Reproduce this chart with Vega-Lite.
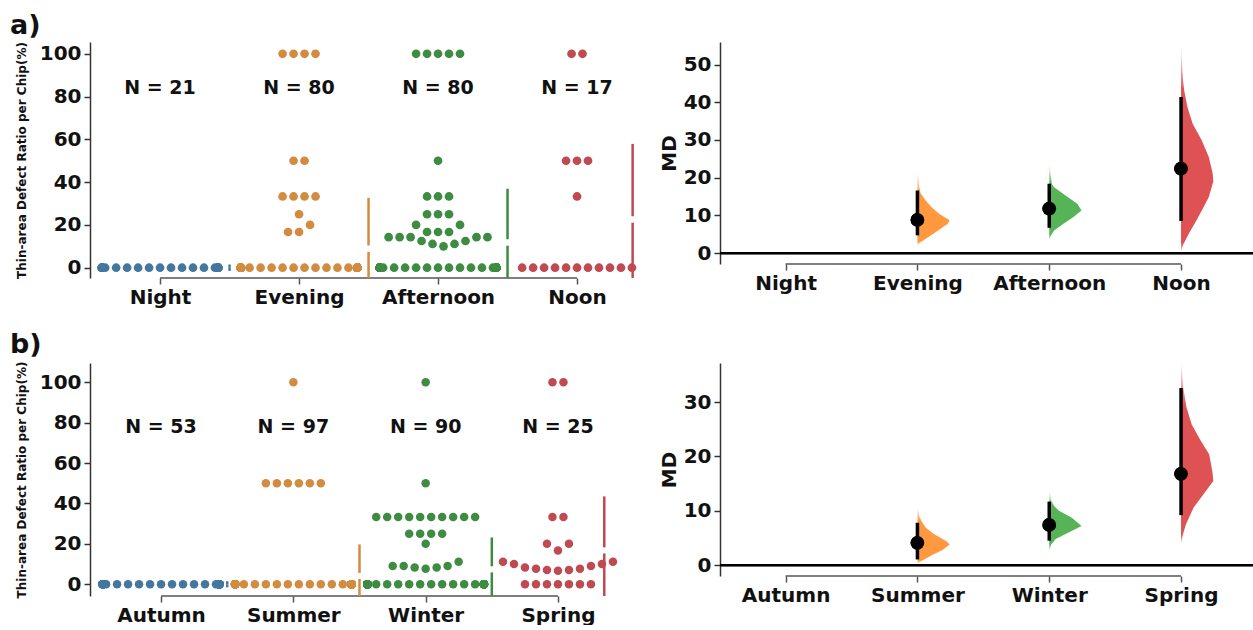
{
  "$schema": "https://vega.github.io/schema/vega-lite/v6.json",
  "background": "white",
  "padding": {"left": 10, "top": 11, "right": 0, "bottom": 0},
  "columns": 2,
  "bounds": "flush",
  "spacing": {"row": 85, "column": 80},
  "config": {
    "view": {"stroke": null},
    "font": "DejaVu Sans",
    "axis": {
      "grid": false,
      "labelFont": "DejaVu Sans",
      "titleFont": "DejaVu Sans",
      "labelFontWeight": "bold",
      "titleFontWeight": "bold",
      "labelColor": "#111",
      "titleColor": "#111",
      "labelFontSize": 20,
      "tickColor": "#333",
      "domainColor": "#333",
      "tickSize": 6,
      "tickWidth": 1.5,
      "domainWidth": 1.5,
      "labelPadding": 3
    }
  },
  "datasets": {
    "a_swarm": [
      {"group":"Night","value":0},{"group":"Night","value":0},{"group":"Night","value":0},{"group":"Night","value":0},{"group":"Night","value":0},{"group":"Night","value":0},{"group":"Night","value":0},
      {"group":"Night","value":0},{"group":"Night","value":0},{"group":"Night","value":0},{"group":"Night","value":0},{"group":"Night","value":0},{"group":"Night","value":0},{"group":"Night","value":0},
      {"group":"Night","value":0},{"group":"Night","value":0},{"group":"Night","value":0},{"group":"Night","value":0},{"group":"Night","value":0},{"group":"Night","value":0},{"group":"Night","value":0},
      {"group":"Evening","value":100},{"group":"Evening","value":100},{"group":"Evening","value":100},{"group":"Evening","value":100},
      {"group":"Evening","value":50},{"group":"Evening","value":50},
      {"group":"Evening","value":33.3},{"group":"Evening","value":33.3},{"group":"Evening","value":33.3},{"group":"Evening","value":33.3},
      {"group":"Evening","value":25},{"group":"Evening","value":20},{"group":"Evening","value":16.7},{"group":"Evening","value":16.7},
      {"group":"Evening","value":0},{"group":"Evening","value":0},{"group":"Evening","value":0},{"group":"Evening","value":0},{"group":"Evening","value":0},{"group":"Evening","value":0},{"group":"Evening","value":0},{"group":"Evening","value":0},{"group":"Evening","value":0},{"group":"Evening","value":0},{"group":"Evening","value":0},
      {"group":"Evening","value":0},{"group":"Evening","value":0},{"group":"Evening","value":0},{"group":"Evening","value":0},{"group":"Evening","value":0},{"group":"Evening","value":0},{"group":"Evening","value":0},{"group":"Evening","value":0},{"group":"Evening","value":0},{"group":"Evening","value":0},{"group":"Evening","value":0},
      {"group":"Evening","value":0},{"group":"Evening","value":0},{"group":"Evening","value":0},{"group":"Evening","value":0},{"group":"Evening","value":0},{"group":"Evening","value":0},{"group":"Evening","value":0},{"group":"Evening","value":0},{"group":"Evening","value":0},{"group":"Evening","value":0},{"group":"Evening","value":0},
      {"group":"Evening","value":0},{"group":"Evening","value":0},{"group":"Evening","value":0},{"group":"Evening","value":0},{"group":"Evening","value":0},{"group":"Evening","value":0},{"group":"Evening","value":0},{"group":"Evening","value":0},{"group":"Evening","value":0},{"group":"Evening","value":0},{"group":"Evening","value":0},
      {"group":"Evening","value":0},{"group":"Evening","value":0},{"group":"Evening","value":0},{"group":"Evening","value":0},{"group":"Evening","value":0},{"group":"Evening","value":0},{"group":"Evening","value":0},{"group":"Evening","value":0},{"group":"Evening","value":0},{"group":"Evening","value":0},{"group":"Evening","value":0},
      {"group":"Evening","value":0},{"group":"Evening","value":0},{"group":"Evening","value":0},{"group":"Evening","value":0},{"group":"Evening","value":0},{"group":"Evening","value":0},{"group":"Evening","value":0},{"group":"Evening","value":0},{"group":"Evening","value":0},{"group":"Evening","value":0},{"group":"Evening","value":0},
      {"group":"Afternoon","value":100},{"group":"Afternoon","value":100},{"group":"Afternoon","value":100},{"group":"Afternoon","value":100},{"group":"Afternoon","value":100},
      {"group":"Afternoon","value":50},
      {"group":"Afternoon","value":33.3},{"group":"Afternoon","value":33.3},{"group":"Afternoon","value":33.3},
      {"group":"Afternoon","value":25},{"group":"Afternoon","value":25},{"group":"Afternoon","value":25},
      {"group":"Afternoon","value":20},{"group":"Afternoon","value":20},
      {"group":"Afternoon","value":16.7},{"group":"Afternoon","value":16.7},{"group":"Afternoon","value":16.7},
      {"group":"Afternoon","value":14.3},{"group":"Afternoon","value":14.3},{"group":"Afternoon","value":14.3},{"group":"Afternoon","value":14.3},{"group":"Afternoon","value":14.3},
      {"group":"Afternoon","value":12.5},{"group":"Afternoon","value":12.5},
      {"group":"Afternoon","value":11.1},{"group":"Afternoon","value":11.1},
      {"group":"Afternoon","value":10},
      {"group":"Afternoon","value":0},{"group":"Afternoon","value":0},{"group":"Afternoon","value":0},{"group":"Afternoon","value":0},{"group":"Afternoon","value":0},{"group":"Afternoon","value":0},{"group":"Afternoon","value":0},{"group":"Afternoon","value":0},{"group":"Afternoon","value":0},{"group":"Afternoon","value":0},
      {"group":"Afternoon","value":0},{"group":"Afternoon","value":0},{"group":"Afternoon","value":0},{"group":"Afternoon","value":0},{"group":"Afternoon","value":0},{"group":"Afternoon","value":0},{"group":"Afternoon","value":0},{"group":"Afternoon","value":0},{"group":"Afternoon","value":0},{"group":"Afternoon","value":0},
      {"group":"Afternoon","value":0},{"group":"Afternoon","value":0},{"group":"Afternoon","value":0},{"group":"Afternoon","value":0},{"group":"Afternoon","value":0},{"group":"Afternoon","value":0},{"group":"Afternoon","value":0},{"group":"Afternoon","value":0},{"group":"Afternoon","value":0},{"group":"Afternoon","value":0},
      {"group":"Afternoon","value":0},{"group":"Afternoon","value":0},{"group":"Afternoon","value":0},{"group":"Afternoon","value":0},{"group":"Afternoon","value":0},{"group":"Afternoon","value":0},{"group":"Afternoon","value":0},{"group":"Afternoon","value":0},{"group":"Afternoon","value":0},{"group":"Afternoon","value":0},
      {"group":"Afternoon","value":0},{"group":"Afternoon","value":0},{"group":"Afternoon","value":0},{"group":"Afternoon","value":0},{"group":"Afternoon","value":0},{"group":"Afternoon","value":0},{"group":"Afternoon","value":0},{"group":"Afternoon","value":0},{"group":"Afternoon","value":0},{"group":"Afternoon","value":0},
      {"group":"Afternoon","value":0},{"group":"Afternoon","value":0},{"group":"Afternoon","value":0},
      {"group":"Noon","value":100},{"group":"Noon","value":100},{"group":"Noon","value":50},{"group":"Noon","value":50},{"group":"Noon","value":50},{"group":"Noon","value":33.3},
      {"group":"Noon","value":0},{"group":"Noon","value":0},{"group":"Noon","value":0},{"group":"Noon","value":0},{"group":"Noon","value":0},{"group":"Noon","value":0},{"group":"Noon","value":0},{"group":"Noon","value":0},{"group":"Noon","value":0},{"group":"Noon","value":0},{"group":"Noon","value":0}
    ],
    "b_swarm": [
      {"group":"Autumn","value":0},{"group":"Autumn","value":0},{"group":"Autumn","value":0},{"group":"Autumn","value":0},{"group":"Autumn","value":0},{"group":"Autumn","value":0},{"group":"Autumn","value":0},{"group":"Autumn","value":0},{"group":"Autumn","value":0},{"group":"Autumn","value":0},
      {"group":"Autumn","value":0},{"group":"Autumn","value":0},{"group":"Autumn","value":0},{"group":"Autumn","value":0},{"group":"Autumn","value":0},{"group":"Autumn","value":0},{"group":"Autumn","value":0},{"group":"Autumn","value":0},{"group":"Autumn","value":0},{"group":"Autumn","value":0},
      {"group":"Autumn","value":0},{"group":"Autumn","value":0},{"group":"Autumn","value":0},{"group":"Autumn","value":0},{"group":"Autumn","value":0},{"group":"Autumn","value":0},{"group":"Autumn","value":0},{"group":"Autumn","value":0},{"group":"Autumn","value":0},{"group":"Autumn","value":0},
      {"group":"Autumn","value":0},{"group":"Autumn","value":0},{"group":"Autumn","value":0},{"group":"Autumn","value":0},{"group":"Autumn","value":0},{"group":"Autumn","value":0},{"group":"Autumn","value":0},{"group":"Autumn","value":0},{"group":"Autumn","value":0},{"group":"Autumn","value":0},
      {"group":"Autumn","value":0},{"group":"Autumn","value":0},{"group":"Autumn","value":0},{"group":"Autumn","value":0},{"group":"Autumn","value":0},{"group":"Autumn","value":0},{"group":"Autumn","value":0},{"group":"Autumn","value":0},{"group":"Autumn","value":0},{"group":"Autumn","value":0},
      {"group":"Autumn","value":0},{"group":"Autumn","value":0},{"group":"Autumn","value":0},
      {"group":"Summer","value":100},
      {"group":"Summer","value":50},{"group":"Summer","value":50},{"group":"Summer","value":50},{"group":"Summer","value":50},{"group":"Summer","value":50},{"group":"Summer","value":50},
      {"group":"Summer","value":0},{"group":"Summer","value":0},{"group":"Summer","value":0},{"group":"Summer","value":0},{"group":"Summer","value":0},{"group":"Summer","value":0},{"group":"Summer","value":0},{"group":"Summer","value":0},{"group":"Summer","value":0},{"group":"Summer","value":0},
      {"group":"Summer","value":0},{"group":"Summer","value":0},{"group":"Summer","value":0},{"group":"Summer","value":0},{"group":"Summer","value":0},{"group":"Summer","value":0},{"group":"Summer","value":0},{"group":"Summer","value":0},{"group":"Summer","value":0},{"group":"Summer","value":0},
      {"group":"Summer","value":0},{"group":"Summer","value":0},{"group":"Summer","value":0},{"group":"Summer","value":0},{"group":"Summer","value":0},{"group":"Summer","value":0},{"group":"Summer","value":0},{"group":"Summer","value":0},{"group":"Summer","value":0},{"group":"Summer","value":0},
      {"group":"Summer","value":0},{"group":"Summer","value":0},{"group":"Summer","value":0},{"group":"Summer","value":0},{"group":"Summer","value":0},{"group":"Summer","value":0},{"group":"Summer","value":0},{"group":"Summer","value":0},{"group":"Summer","value":0},{"group":"Summer","value":0},
      {"group":"Summer","value":0},{"group":"Summer","value":0},{"group":"Summer","value":0},{"group":"Summer","value":0},{"group":"Summer","value":0},{"group":"Summer","value":0},{"group":"Summer","value":0},{"group":"Summer","value":0},{"group":"Summer","value":0},{"group":"Summer","value":0},
      {"group":"Summer","value":0},{"group":"Summer","value":0},{"group":"Summer","value":0},{"group":"Summer","value":0},{"group":"Summer","value":0},{"group":"Summer","value":0},{"group":"Summer","value":0},{"group":"Summer","value":0},{"group":"Summer","value":0},{"group":"Summer","value":0},
      {"group":"Summer","value":0},{"group":"Summer","value":0},{"group":"Summer","value":0},{"group":"Summer","value":0},{"group":"Summer","value":0},{"group":"Summer","value":0},{"group":"Summer","value":0},{"group":"Summer","value":0},{"group":"Summer","value":0},{"group":"Summer","value":0},
      {"group":"Summer","value":0},{"group":"Summer","value":0},{"group":"Summer","value":0},{"group":"Summer","value":0},{"group":"Summer","value":0},{"group":"Summer","value":0},{"group":"Summer","value":0},{"group":"Summer","value":0},{"group":"Summer","value":0},{"group":"Summer","value":0},
      {"group":"Summer","value":0},{"group":"Summer","value":0},{"group":"Summer","value":0},{"group":"Summer","value":0},{"group":"Summer","value":0},{"group":"Summer","value":0},{"group":"Summer","value":0},{"group":"Summer","value":0},{"group":"Summer","value":0},{"group":"Summer","value":0},
      {"group":"Winter","value":100},{"group":"Winter","value":50},
      {"group":"Winter","value":33.3},{"group":"Winter","value":33.3},{"group":"Winter","value":33.3},{"group":"Winter","value":33.3},{"group":"Winter","value":33.3},{"group":"Winter","value":33.3},{"group":"Winter","value":33.3},{"group":"Winter","value":33.3},{"group":"Winter","value":33.3},{"group":"Winter","value":33.3},
      {"group":"Winter","value":25},{"group":"Winter","value":25},{"group":"Winter","value":25},{"group":"Winter","value":25},
      {"group":"Winter","value":20},{"group":"Winter","value":11.1},
      {"group":"Winter","value":9.1},{"group":"Winter","value":9.1},{"group":"Winter","value":9.1},
      {"group":"Winter","value":8.3},{"group":"Winter","value":8.3},{"group":"Winter","value":7.7},
      {"group":"Winter","value":0},{"group":"Winter","value":0},{"group":"Winter","value":0},{"group":"Winter","value":0},{"group":"Winter","value":0},{"group":"Winter","value":0},{"group":"Winter","value":0},{"group":"Winter","value":0},{"group":"Winter","value":0},{"group":"Winter","value":0},{"group":"Winter","value":0},
      {"group":"Winter","value":0},{"group":"Winter","value":0},{"group":"Winter","value":0},{"group":"Winter","value":0},{"group":"Winter","value":0},{"group":"Winter","value":0},{"group":"Winter","value":0},{"group":"Winter","value":0},{"group":"Winter","value":0},{"group":"Winter","value":0},{"group":"Winter","value":0},
      {"group":"Winter","value":0},{"group":"Winter","value":0},{"group":"Winter","value":0},{"group":"Winter","value":0},{"group":"Winter","value":0},{"group":"Winter","value":0},{"group":"Winter","value":0},{"group":"Winter","value":0},{"group":"Winter","value":0},{"group":"Winter","value":0},{"group":"Winter","value":0},
      {"group":"Winter","value":0},{"group":"Winter","value":0},{"group":"Winter","value":0},{"group":"Winter","value":0},{"group":"Winter","value":0},{"group":"Winter","value":0},{"group":"Winter","value":0},{"group":"Winter","value":0},{"group":"Winter","value":0},{"group":"Winter","value":0},{"group":"Winter","value":0},
      {"group":"Winter","value":0},{"group":"Winter","value":0},{"group":"Winter","value":0},{"group":"Winter","value":0},{"group":"Winter","value":0},{"group":"Winter","value":0},{"group":"Winter","value":0},{"group":"Winter","value":0},{"group":"Winter","value":0},{"group":"Winter","value":0},{"group":"Winter","value":0},
      {"group":"Winter","value":0},{"group":"Winter","value":0},{"group":"Winter","value":0},{"group":"Winter","value":0},{"group":"Winter","value":0},{"group":"Winter","value":0},{"group":"Winter","value":0},{"group":"Winter","value":0},{"group":"Winter","value":0},{"group":"Winter","value":0},{"group":"Winter","value":0},
      {"group":"Spring","value":100},{"group":"Spring","value":100},
      {"group":"Spring","value":33.3},{"group":"Spring","value":33.3},
      {"group":"Spring","value":20},{"group":"Spring","value":20},{"group":"Spring","value":16.7},
      {"group":"Spring","value":11.1},{"group":"Spring","value":11.1},{"group":"Spring","value":10},{"group":"Spring","value":10},{"group":"Spring","value":9.1},{"group":"Spring","value":8.3},
      {"group":"Spring","value":7.7},{"group":"Spring","value":7.7},{"group":"Spring","value":7.1},{"group":"Spring","value":7.1},{"group":"Spring","value":6.7},
      {"group":"Spring","value":0},{"group":"Spring","value":0},{"group":"Spring","value":0},{"group":"Spring","value":0},{"group":"Spring","value":0},{"group":"Spring","value":0},{"group":"Spring","value":0}
    ],
    "a_effect": [
      {"group":"Evening","md":8.8,"lo":4.7,"hi":16.6},
      {"group":"Afternoon","md":11.8,"lo":6.7,"hi":18.4},
      {"group":"Noon","md":22.4,"lo":8.5,"hi":41.4}
    ],
    "b_effect": [
      {"group":"Summer","md":4.1,"lo":1.05,"hi":7.8},
      {"group":"Winter","md":7.4,"lo":4.5,"hi":11.7},
      {"group":"Spring","md":16.8,"lo":9.2,"hi":32.6}
    ],
    "a_density": [
      {"group":"Evening","value":21,"density":0.02},{"group":"Evening","value":19,"density":0.04},{"group":"Evening","value":17.5,"density":0.06},{"group":"Evening","value":15.8,"density":0.1},
      {"group":"Evening","value":14,"density":0.25},{"group":"Evening","value":12.2,"density":0.43},{"group":"Evening","value":10.4,"density":0.67},{"group":"Evening","value":8.7,"density":1.0},
      {"group":"Evening","value":7.8,"density":0.94},{"group":"Evening","value":6,"density":0.64},{"group":"Evening","value":4.2,"density":0.33},{"group":"Evening","value":2.9,"density":0.09},{"group":"Evening","value":2.2,"density":0.02},
      {"group":"Afternoon","value":23,"density":0.02},{"group":"Afternoon","value":21,"density":0.04},{"group":"Afternoon","value":18.4,"density":0.08},{"group":"Afternoon","value":17.5,"density":0.14},
      {"group":"Afternoon","value":14.9,"density":0.57},{"group":"Afternoon","value":13.1,"density":0.87},{"group":"Afternoon","value":11.3,"density":1.0},{"group":"Afternoon","value":9.5,"density":0.74},
      {"group":"Afternoon","value":7.8,"density":0.44},{"group":"Afternoon","value":6,"density":0.15},{"group":"Afternoon","value":4.8,"density":0.06},{"group":"Afternoon","value":3.8,"density":0.02},
      {"group":"Noon","value":54,"density":0.01},{"group":"Noon","value":50,"density":0.03},{"group":"Noon","value":46,"density":0.06},{"group":"Noon","value":43,"density":0.1},
      {"group":"Noon","value":38.7,"density":0.2},{"group":"Noon","value":34.3,"density":0.36},{"group":"Noon","value":29.9,"density":0.64},{"group":"Noon","value":25.5,"density":0.86},
      {"group":"Noon","value":21.1,"density":0.98},{"group":"Noon","value":19,"density":1.0},{"group":"Noon","value":14.9,"density":0.86},{"group":"Noon","value":12.2,"density":0.7},
      {"group":"Noon","value":8.7,"density":0.48},{"group":"Noon","value":5.1,"density":0.24},{"group":"Noon","value":2.5,"density":0.08},{"group":"Noon","value":0.7,"density":0.01}
    ],
    "b_density": [
      {"group":"Summer","value":10.3,"density":0.03},{"group":"Summer","value":9,"density":0.06},{"group":"Summer","value":8.1,"density":0.12},{"group":"Summer","value":6.9,"density":0.26},
      {"group":"Summer","value":5.7,"density":0.52},{"group":"Summer","value":4.4,"density":0.9},{"group":"Summer","value":3.8,"density":1.0},{"group":"Summer","value":2.8,"density":0.78},
      {"group":"Summer","value":1.9,"density":0.47},{"group":"Summer","value":0.96,"density":0.18},{"group":"Summer","value":0.4,"density":0.03},
      {"group":"Winter","value":13.4,"density":0.02},{"group":"Winter","value":12,"density":0.06},{"group":"Winter","value":10.9,"density":0.15},{"group":"Winter","value":10,"density":0.3},
      {"group":"Winter","value":8.7,"density":0.7},{"group":"Winter","value":7.2,"density":1.0},{"group":"Winter","value":6,"density":0.6},{"group":"Winter","value":4.8,"density":0.2},
      {"group":"Winter","value":3.8,"density":0.06},{"group":"Winter","value":2.9,"density":0.02},
      {"group":"Spring","value":37,"density":0.01},{"group":"Spring","value":33,"density":0.06},{"group":"Spring","value":29,"density":0.17},{"group":"Spring","value":25.9,"density":0.33},
      {"group":"Spring","value":22.8,"density":0.62},{"group":"Spring","value":20.4,"density":0.87},{"group":"Spring","value":17.3,"density":0.97},{"group":"Spring","value":15.5,"density":1.0},
      {"group":"Spring","value":13,"density":0.69},{"group":"Spring","value":10.6,"density":0.39},{"group":"Spring","value":7.5,"density":0.15},{"group":"Spring","value":5.5,"density":0.05},{"group":"Spring","value":4.2,"density":0.01}
    ]
  },
  "concat": [
    {
      "width": 550,
      "height": 236,
      "title": {"text": "a)", "anchor": "start", "frame": "group", "fontSize": 27, "fontWeight": "bold", "font": "DejaVu Sans", "color": "#111", "dx": -80, "offset": 2},
      "data": {"name": "a_swarm"},
      "transform": [{"calculate": "indexof(['Night','Evening','Afternoon','Noon'], datum.group)", "as": "idx"}],
      "layer": [
        {
          "transform": [
            {"calculate": "datum.value <= 0 ? 0 : datum.value < 15 ? 1 : datum.value < 22 ? 2 : datum.value < 28 ? 3 : datum.value < 40 ? 4 : datum.value < 60 ? 5 : 6", "as": "band"},
            {"window": [{"op": "row_number", "as": "r"}], "groupby": ["group", "band"], "sort": [{"field": "value", "order": "ascending"}]},
            {"joinaggregate": [{"op": "count", "as": "n"}], "groupby": ["group", "band"]},
            {"calculate": "(datum.r % 2 == 1 ? (datum.r - 1) / 2 : -datum.r / 2) + (datum.n % 2 == 0 ? 0.5 : 0)", "as": "slot"},
            {"calculate": "datum.idx + clamp(datum.slot, -5.3, 5.3) * 0.079", "as": "xpos"}
          ],
          "mark": {"type": "circle", "size": 76, "opacity": 1},
          "encoding": {
            "x": {"field": "xpos", "type": "quantitative", "scale": {"domain": [-0.504, 3.453], "nice": false, "zero": false},
                  "axis": {"values": [0, 1, 2, 3], "labelExpr": "['Night','Evening','Afternoon','Noon'][datum.value]", "domain": false, "tickColor": "#555", "title": null, "labelFlush": false, "labelOverlap": false}},
            "y": {"field": "value", "type": "quantitative", "scale": {"domain": [-4.8, 105.5], "nice": false, "zero": false, "clamp": true},
                  "axis": {"values": [0, 20, 40, 60, 80, 100], "title": "Thin-area Defect Ratio per Chip(%)", "titleFontSize": 12, "titlePadding": 11}},
            "color": {"field": "group", "type": "nominal", "legend": null, "scale": {"domain": ["Night","Evening","Afternoon","Noon","Autumn","Summer","Winter","Spring"], "range": ["#44779f","#d38b40","#3d8c42","#bf4a52","#44779f","#d38b40","#3d8c42","#bf4a52"]}}
          }
        },
        {
          "transform": [{"aggregate": [{"op": "count", "as": "n"}]}],
          "mark": {"type": "rule", "color": "#555", "strokeWidth": 1.5},
          "encoding": {
            "x": {"datum": 0, "type": "quantitative"},
            "x2": {"datum": 3},
            "y": {"datum": -4.8, "type": "quantitative"}
          }
        },
        {
          "transform": [
            {"aggregate": [{"op": "mean", "field": "value", "as": "m"}, {"op": "stdev", "field": "value", "as": "sd"}], "groupby": ["group", "idx"]},
            {"calculate": "datum.idx + [0.5, 0.5, 0.5, 0.4][datum.idx]", "as": "lx"},
            {"calculate": "datum.m + datum.sd", "as": "top"},
            {"calculate": "datum.m + 1.5", "as": "tg"},
            {"calculate": "datum.m - 1.5", "as": "bg"},
            {"calculate": "datum.m - datum.sd", "as": "bot"}
          ],
          "layer": [
            {
              "mark": {"type": "rule", "strokeWidth": 2.5},
              "encoding": {
                "x": {"field": "lx", "type": "quantitative"},
                "y": {"field": "top", "type": "quantitative"},
                "y2": {"field": "tg"},
                "color": {"field": "group", "type": "nominal", "legend": null}
              }
            },
            {
              "mark": {"type": "rule", "strokeWidth": 2.5},
              "encoding": {
                "x": {"field": "lx", "type": "quantitative"},
                "y": {"field": "bg", "type": "quantitative"},
                "y2": {"field": "bot"},
                "color": {"field": "group", "type": "nominal", "legend": null}
              }
            }
          ]
        },
        {
          "transform": [
            {"aggregate": [{"op": "count", "as": "n"}], "groupby": ["group", "idx"]},
            {"calculate": "'N = ' + datum.n", "as": "label"}
          ],
          "mark": {"type": "text", "fontSize": 19, "fontWeight": "bold", "font": "DejaVu Sans", "color": "#111"},
          "encoding": {
            "x": {"field": "idx", "type": "quantitative"},
            "y": {"datum": 84, "type": "quantitative"},
            "text": {"field": "label"}
          }
        }
      ]
    },
    {
      "width": 533,
      "height": 222,
      "data": {"name": "a_effect"},
      "transform": [{"calculate": "indexof(['Night','Evening','Afternoon','Noon'], datum.group)", "as": "idx"}],
      "layer": [
        {
          "mark": {"type": "circle", "size": 190, "color": "#000", "opacity": 1},
          "encoding": {
            "x": {"field": "idx", "type": "quantitative", "scale": {"domain": [-0.498, 3.546], "nice": false, "zero": false},
                  "axis": {"values": [0, 1, 2, 3], "labelExpr": "['Night','Evening','Afternoon','Noon'][datum.value]", "domain": false, "tickColor": "#555", "title": null, "labelFlush": false, "labelOverlap": false}},
            "y": {"field": "md", "type": "quantitative", "scale": {"domain": [-2.9, 56], "nice": false, "zero": false},
                  "axis": {"values": [0, 10, 20, 30, 40, 50], "title": "MD", "titleFontSize": 20, "titlePadding": 4}}
          }
        },
        {
          "mark": {"type": "rule", "color": "#000", "strokeWidth": 2.2},
          "encoding": {"y": {"datum": 0, "type": "quantitative"}}
        },
        {
          "transform": [{"aggregate": [{"op": "count", "as": "n"}]}],
          "mark": {"type": "rule", "color": "#555", "strokeWidth": 1.5},
          "encoding": {
            "x": {"datum": 0, "type": "quantitative"},
            "x2": {"datum": 3},
            "y": {"datum": -2.9, "type": "quantitative"}
          }
        },
        {
          "data": {"name": "a_density"},
          "transform": [
            {"filter": "datum.group == 'Evening'"},
            {"calculate": "indexof(['Night','Evening','Afternoon','Noon'], datum.group)", "as": "idx"},
            {"calculate": "datum.idx + datum.density * 0.245", "as": "xr"}
          ],
          "mark": {"type": "area", "orient": "horizontal", "fill": {"gradient": "linear", "x1": 0, "y1": 0, "x2": 0, "y2": 1, "stops": [{"offset": 0, "color": "#fff3e8"}, {"offset": 0.28, "color": "#ff983e"}, {"offset": 0.95, "color": "#ff983e"}, {"offset": 1, "color": "#ffd3ad"}]}},
          "encoding": {
            "y": {"field": "value", "type": "quantitative"},
            "x": {"field": "idx", "type": "quantitative"},
            "x2": {"field": "xr"}
          }
        },
        {
          "data": {"name": "a_density"},
          "transform": [
            {"filter": "datum.group == 'Afternoon'"},
            {"calculate": "indexof(['Night','Evening','Afternoon','Noon'], datum.group)", "as": "idx"},
            {"calculate": "datum.idx + datum.density * 0.245", "as": "xr"}
          ],
          "mark": {"type": "area", "orient": "horizontal", "fill": {"gradient": "linear", "x1": 0, "y1": 0, "x2": 0, "y2": 1, "stops": [{"offset": 0, "color": "#eef8ee"}, {"offset": 0.24, "color": "#56b356"}, {"offset": 0.94, "color": "#56b356"}, {"offset": 1, "color": "#c8e8c8"}]}},
          "encoding": {
            "y": {"field": "value", "type": "quantitative"},
            "x": {"field": "idx", "type": "quantitative"},
            "x2": {"field": "xr"}
          }
        },
        {
          "data": {"name": "a_density"},
          "transform": [
            {"filter": "datum.group == 'Noon'"},
            {"calculate": "indexof(['Night','Evening','Afternoon','Noon'], datum.group)", "as": "idx"},
            {"calculate": "datum.idx + datum.density * 0.245", "as": "xr"}
          ],
          "mark": {"type": "area", "orient": "horizontal", "fill": {"gradient": "linear", "x1": 0, "y1": 0, "x2": 0, "y2": 1, "stops": [{"offset": 0, "color": "#fbecec"}, {"offset": 0.2, "color": "#de5253"}, {"offset": 0.96, "color": "#de5253"}, {"offset": 1, "color": "#f2bcbc"}]}},
          "encoding": {
            "y": {"field": "value", "type": "quantitative"},
            "x": {"field": "idx", "type": "quantitative"},
            "x2": {"field": "xr"}
          }
        },
        {
          "mark": {"type": "rule", "color": "#000", "strokeWidth": 3.5},
          "encoding": {
            "x": {"field": "idx", "type": "quantitative"},
            "y": {"field": "lo", "type": "quantitative"},
            "y2": {"field": "hi"}
          }
        },
        {
          "mark": {"type": "circle", "size": 190, "color": "#000", "opacity": 1},
          "encoding": {
            "x": {"field": "idx", "type": "quantitative"},
            "y": {"field": "md", "type": "quantitative"}
          }
        }
      ]
    },
    {
      "width": 550,
      "height": 233,
      "title": {"text": "b)", "anchor": "start", "frame": "group", "fontSize": 27, "fontWeight": "bold", "font": "DejaVu Sans", "color": "#111", "dx": -80, "offset": 2},
      "data": {"name": "b_swarm"},
      "transform": [{"calculate": "indexof(['Autumn','Summer','Winter','Spring'], datum.group)", "as": "idx"}],
      "layer": [
        {
          "transform": [
            {"calculate": "datum.value <= 0 ? 0 : datum.value < 15 ? 1 : datum.value < 22 ? 2 : datum.value < 28 ? 3 : datum.value < 40 ? 4 : datum.value < 60 ? 5 : 6", "as": "band"},
            {"window": [{"op": "row_number", "as": "r"}], "groupby": ["group", "band"], "sort": [{"field": "value", "order": "ascending"}]},
            {"joinaggregate": [{"op": "count", "as": "n"}], "groupby": ["group", "band"]},
            {"calculate": "(datum.r % 2 == 1 ? (datum.r - 1) / 2 : -datum.r / 2) + (datum.n % 2 == 0 ? 0.5 : 0)", "as": "slot"},
            {"calculate": "datum.idx + clamp(datum.slot, -5.3, 5.3) * 0.0831", "as": "xpos"}
          ],
          "mark": {"type": "circle", "size": 72, "opacity": 1},
          "encoding": {
            "x": {"field": "xpos", "type": "quantitative", "scale": {"domain": [-0.537, 3.62], "nice": false, "zero": false},
                  "axis": {"values": [0, 1, 2, 3], "labelExpr": "['Autumn','Summer','Winter','Spring'][datum.value]", "domain": false, "tickColor": "#555", "title": null, "labelFlush": false, "labelOverlap": false}},
            "y": {"field": "value", "type": "quantitative", "scale": {"domain": [-5.8, 109.5], "nice": false, "zero": false, "clamp": true},
                  "axis": {"values": [0, 20, 40, 60, 80, 100], "title": "Thin-area Defect Ratio per Chip(%)", "titleFontSize": 12, "titlePadding": 11}},
            "color": {"field": "group", "type": "nominal", "legend": null, "scale": {"domain": ["Night","Evening","Afternoon","Noon","Autumn","Summer","Winter","Spring"], "range": ["#44779f","#d38b40","#3d8c42","#bf4a52","#44779f","#d38b40","#3d8c42","#bf4a52"]}}
          }
        },
        {
          "transform": [{"aggregate": [{"op": "count", "as": "n"}]}],
          "mark": {"type": "rule", "color": "#555", "strokeWidth": 1.5},
          "encoding": {
            "x": {"datum": 0, "type": "quantitative"},
            "x2": {"datum": 3},
            "y": {"datum": -5.8, "type": "quantitative"}
          }
        },
        {
          "transform": [
            {"aggregate": [{"op": "mean", "field": "value", "as": "m"}, {"op": "stdev", "field": "value", "as": "sd"}], "groupby": ["group", "idx"]},
            {"calculate": "datum.idx + [0.5, 0.5, 0.5, 0.35][datum.idx]", "as": "lx"},
            {"calculate": "datum.m + datum.sd", "as": "top"},
            {"calculate": "datum.m + 1.5", "as": "tg"},
            {"calculate": "datum.m - 1.5", "as": "bg"},
            {"calculate": "datum.m - datum.sd", "as": "bot"}
          ],
          "layer": [
            {
              "mark": {"type": "rule", "strokeWidth": 2.5},
              "encoding": {
                "x": {"field": "lx", "type": "quantitative"},
                "y": {"field": "top", "type": "quantitative"},
                "y2": {"field": "tg"},
                "color": {"field": "group", "type": "nominal", "legend": null}
              }
            },
            {
              "mark": {"type": "rule", "strokeWidth": 2.5},
              "encoding": {
                "x": {"field": "lx", "type": "quantitative"},
                "y": {"field": "bg", "type": "quantitative"},
                "y2": {"field": "bot"},
                "color": {"field": "group", "type": "nominal", "legend": null}
              }
            }
          ]
        },
        {
          "transform": [
            {"aggregate": [{"op": "count", "as": "n"}], "groupby": ["group", "idx"]},
            {"calculate": "'N = ' + datum.n", "as": "label"}
          ],
          "mark": {"type": "text", "fontSize": 19, "fontWeight": "bold", "font": "DejaVu Sans", "color": "#111"},
          "encoding": {
            "x": {"field": "idx", "type": "quantitative"},
            "y": {"datum": 78, "type": "quantitative"},
            "text": {"field": "label"}
          }
        }
      ]
    },
    {
      "width": 533,
      "height": 213,
      "data": {"name": "b_effect"},
      "transform": [{"calculate": "indexof(['Autumn','Summer','Winter','Spring'], datum.group)", "as": "idx"}],
      "layer": [
        {
          "mark": {"type": "circle", "size": 190, "color": "#000", "opacity": 1},
          "encoding": {
            "x": {"field": "idx", "type": "quantitative", "scale": {"domain": [-0.498, 3.546], "nice": false, "zero": false},
                  "axis": {"values": [0, 1, 2, 3], "labelExpr": "['Autumn','Summer','Winter','Spring'][datum.value]", "domain": false, "tickColor": "#555", "title": null, "labelFlush": false, "labelOverlap": false}},
            "y": {"field": "md", "type": "quantitative", "scale": {"domain": [-2.0, 37.2], "nice": false, "zero": false},
                  "axis": {"values": [0, 10, 20, 30], "title": "MD", "titleFontSize": 20, "titlePadding": 4}}
          }
        },
        {
          "mark": {"type": "rule", "color": "#000", "strokeWidth": 2.2},
          "encoding": {"y": {"datum": 0, "type": "quantitative"}}
        },
        {
          "transform": [{"aggregate": [{"op": "count", "as": "n"}]}],
          "mark": {"type": "rule", "color": "#555", "strokeWidth": 1.5},
          "encoding": {
            "x": {"datum": 0, "type": "quantitative"},
            "x2": {"datum": 3},
            "y": {"datum": -2.0, "type": "quantitative"}
          }
        },
        {
          "data": {"name": "b_density"},
          "transform": [
            {"filter": "datum.group == 'Summer'"},
            {"calculate": "indexof(['Autumn','Summer','Winter','Spring'], datum.group)", "as": "idx"},
            {"calculate": "datum.idx + datum.density * 0.245", "as": "xr"}
          ],
          "mark": {"type": "area", "orient": "horizontal", "fill": {"gradient": "linear", "x1": 0, "y1": 0, "x2": 0, "y2": 1, "stops": [{"offset": 0, "color": "#fff3e8"}, {"offset": 0.22, "color": "#ff983e"}, {"offset": 0.94, "color": "#ff983e"}, {"offset": 1, "color": "#ffd3ad"}]}},
          "encoding": {
            "y": {"field": "value", "type": "quantitative"},
            "x": {"field": "idx", "type": "quantitative"},
            "x2": {"field": "xr"}
          }
        },
        {
          "data": {"name": "b_density"},
          "transform": [
            {"filter": "datum.group == 'Winter'"},
            {"calculate": "indexof(['Autumn','Summer','Winter','Spring'], datum.group)", "as": "idx"},
            {"calculate": "datum.idx + datum.density * 0.245", "as": "xr"}
          ],
          "mark": {"type": "area", "orient": "horizontal", "fill": {"gradient": "linear", "x1": 0, "y1": 0, "x2": 0, "y2": 1, "stops": [{"offset": 0, "color": "#eef8ee"}, {"offset": 0.24, "color": "#56b356"}, {"offset": 0.91, "color": "#56b356"}, {"offset": 1, "color": "#c8e8c8"}]}},
          "encoding": {
            "y": {"field": "value", "type": "quantitative"},
            "x": {"field": "idx", "type": "quantitative"},
            "x2": {"field": "xr"}
          }
        },
        {
          "data": {"name": "b_density"},
          "transform": [
            {"filter": "datum.group == 'Spring'"},
            {"calculate": "indexof(['Autumn','Summer','Winter','Spring'], datum.group)", "as": "idx"},
            {"calculate": "datum.idx + datum.density * 0.245", "as": "xr"}
          ],
          "mark": {"type": "area", "orient": "horizontal", "fill": {"gradient": "linear", "x1": 0, "y1": 0, "x2": 0, "y2": 1, "stops": [{"offset": 0, "color": "#fbecec"}, {"offset": 0.24, "color": "#de5253"}, {"offset": 0.96, "color": "#de5253"}, {"offset": 1, "color": "#f2bcbc"}]}},
          "encoding": {
            "y": {"field": "value", "type": "quantitative"},
            "x": {"field": "idx", "type": "quantitative"},
            "x2": {"field": "xr"}
          }
        },
        {
          "mark": {"type": "rule", "color": "#000", "strokeWidth": 3.5},
          "encoding": {
            "x": {"field": "idx", "type": "quantitative"},
            "y": {"field": "lo", "type": "quantitative"},
            "y2": {"field": "hi"}
          }
        },
        {
          "mark": {"type": "circle", "size": 190, "color": "#000", "opacity": 1},
          "encoding": {
            "x": {"field": "idx", "type": "quantitative"},
            "y": {"field": "md", "type": "quantitative"}
          }
        }
      ]
    }
  ]
}
